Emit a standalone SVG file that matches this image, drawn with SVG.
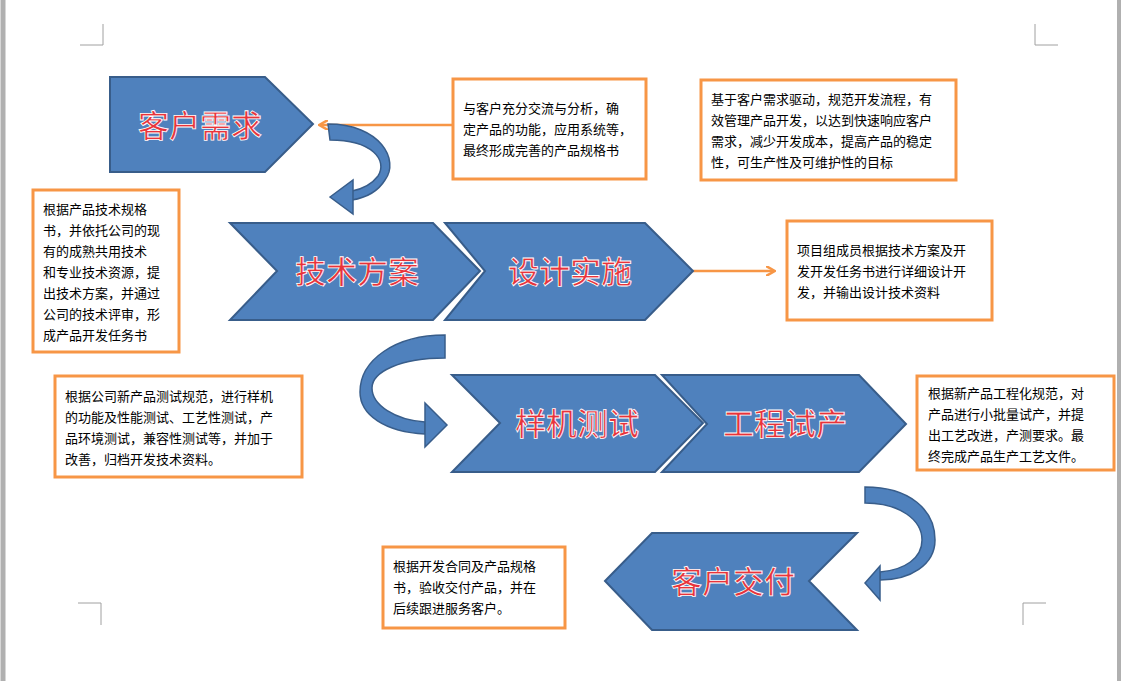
<svg xmlns="http://www.w3.org/2000/svg" width="1135" height="681" viewBox="0 0 1135 681">
<style>
.shape{fill:#4f81bd;stroke:#385d8a;stroke-width:2}
.title{font-family:"Noto Sans CJK SC",sans-serif;font-size:31px;fill:#e8333a;stroke:#ffffff;stroke-width:0.8;text-anchor:middle;font-weight:500}
.box{fill:#ffffff;stroke:#f79646;stroke-width:3}
.txt{font-family:"Noto Sans CJK SC",sans-serif;font-size:13px;fill:#000}
.oline{stroke:#f79646;stroke-width:2.5;fill:none}
.mark{stroke:#a0a0a0;stroke-width:1;fill:none}
.curve{fill:#4f81bd;stroke:#385d8a;stroke-width:1.5}
</style>
<defs>
<marker id="oa" markerWidth="10" markerHeight="10" refX="8" refY="5" orient="auto" markerUnits="userSpaceOnUse"><path d="M0,0 L9,5 L0,10" fill="none" stroke="#f79646" stroke-width="2.5"/></marker>
</defs>
<rect width="1135" height="681" fill="#ffffff"/>
<line x1="3" y1="0" x2="3" y2="681" stroke="#b0b0b0" stroke-width="5"/>
<line x1="1119" y1="0" x2="1119" y2="681" stroke="#b0b0b0" stroke-width="4"/>
<path class="mark" d="M80,45 H103 V24 M1058,45 H1035 V24 M78,603 H101 V625 M1046,603 H1023 V625"/>
<g id="connectors">
<line class="oline" x1="453" y1="125" x2="320" y2="125" marker-end="url(#oa)"/>
<line class="oline" x1="693" y1="271" x2="774" y2="271" marker-end="url(#oa)"/>
<path class="curve" d="M328,124 C380,124 400,160 385,180 C377,193 364,198 352,200 L352,191 C362,189 372,184 378,176 C388,160 372,140 330,140 Z"/>
<path class="curve" d="M330,197 L353,180 L353,214 Z"/>
<path class="curve" d="M445,335 L445,358 C400,358 372,372 372,388 C372,405 395,420 425,422 L425,434 C385,432 360,415 360,392 C360,360 395,335 445,335 Z"/>
<path class="curve" d="M447,425 L425,403 L425,447 Z"/>
<path class="curve" d="M865,487 C910,487 935,510 935,540 C935,565 910,580 880,580 L880,572 C905,570 922,558 922,540 C922,520 900,503 865,503 Z"/>
<path class="curve" d="M865,583 L880,566 L880,600 Z"/>
</g>
<g id="n1"><path class="shape" d="M110,77 H265 L313,124 L265,172 H110 Z"/><text class="title" x="200" y="137">客户需求</text></g>
<g id="n2"><path class="shape" d="M230,223 H433 L480,271 L433,320 H230 L277,271 Z"/><text class="title" x="357" y="283">技术方案</text></g>
<g id="n3"><path class="shape" d="M445,223 H645 L693,271 L645,320 H445 L485,271 Z"/><text class="title" x="570" y="283">设计实施</text></g>
<g id="n4"><path class="shape" d="M452,375 H655 L703,423 L655,472 H452 L500,423 Z"/><text class="title" x="577" y="435">样机测试</text></g>
<g id="n5"><path class="shape" d="M662,375 H859 L906,424 L859,472 H662 L707,424 Z"/><text class="title" x="785" y="435">工程试产</text></g>
<g id="n6"><path class="shape" d="M605,581 L652,533 H857 L809,581 L857,630 H652 Z"/><text class="title" x="733" y="593">客户交付</text></g>
<g id="t1"><rect class="box" x="453" y="79" width="193" height="100"/><text class="txt" x="463"><tspan x="463" y="113">与客户充分交流与分析，确</tspan><tspan x="463" y="134">定产品的功能，应用系统等，</tspan><tspan x="463" y="155">最终形成完善的产品规格书</tspan></text></g>
<g id="t2"><rect class="box" x="701" y="80" width="255" height="100"/><text class="txt"><tspan x="711" y="104">基于客户需求驱动，规范开发流程，有</tspan><tspan x="711" y="125">效管理产品开发，以达到快速响应客户</tspan><tspan x="711" y="146">需求，减少开发成本，提高产品的稳定</tspan><tspan x="711" y="167">性，可生产性及可维护性的目标</tspan></text></g>
<g id="t3"><rect class="box" x="33" y="190" width="146" height="162"/><text class="txt"><tspan x="43" y="214">根据产品技术规格</tspan><tspan x="43" y="235">书，并依托公司的现</tspan><tspan x="43" y="256">有的成熟共用技术</tspan><tspan x="43" y="277">和专业技术资源，提</tspan><tspan x="43" y="298">出技术方案，并通过</tspan><tspan x="43" y="319">公司的技术评审，形</tspan><tspan x="43" y="340">成产品开发任务书</tspan></text></g>
<g id="t4"><rect class="box" x="787" y="221" width="205" height="99"/><text class="txt"><tspan x="797" y="255">项目组成员根据技术方案及开</tspan><tspan x="797" y="276">发开发任务书进行详细设计开</tspan><tspan x="797" y="297">发，并输出设计技术资料</tspan></text></g>
<g id="t5"><rect class="box" x="55" y="376" width="247" height="101"/><text class="txt"><tspan x="65" y="401">根据公司新产品测试规范，进行样机</tspan><tspan x="65" y="422">的功能及性能测试、工艺性测试，产</tspan><tspan x="65" y="443">品环境测试，兼容性测试等，并加于</tspan><tspan x="65" y="464">改善，归档开发技术资料。</tspan></text></g>
<g id="t6"><rect class="box" x="917" y="376" width="197" height="94"/><text class="txt"><tspan x="928" y="398">根据新产品工程化规范，对</tspan><tspan x="928" y="419">产品进行小批量试产，并提</tspan><tspan x="928" y="440">出工艺改进，产测要求。最</tspan><tspan x="928" y="461">终完成产品生产工艺文件。</tspan></text></g>
<g id="t7"><rect class="box" x="383" y="547" width="182" height="81"/><text class="txt"><tspan x="393" y="571">根据开发合同及产品规格</tspan><tspan x="393" y="592">书，验收交付产品，并在</tspan><tspan x="393" y="613">后续跟进服务客户。</tspan></text></g>
</svg>
